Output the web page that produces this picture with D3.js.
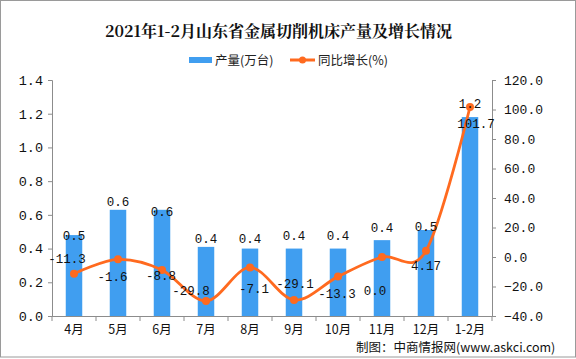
<!DOCTYPE html>
<html><head><meta charset="utf-8">
<script src="https://cdn.jsdelivr.net/npm/d3@7"></script>
<style>body{margin:0;background:#fff}svg{display:block}</style>
</head><body>
<svg id="c" width="576" height="359"></svg>
<script>
const categories = ["4月","5月","6月","7月","8月","9月","10月","11月","12月","1-2月"];
const output = [0.48, 0.63, 0.63, 0.41, 0.40, 0.40, 0.40, 0.45, 0.51, 1.18];
const outputLabels = ["0.5","0.6","0.6","0.4","0.4","0.4","0.4","0.4","0.5","1.2"];
const growth = [-11.3, -1.6, -8.8, -29.8, -7.1, -29.1, -13.3, 0.0, 4.17, 101.7];
const growthLabels = ["-11.3","-1.6","-8.8","-29.8","-7.1","-29.1","-13.3","0.0","4.17","101.7"];
const leftTicks = [0, 0.2, 0.4, 0.6, 0.8, 1.0, 1.2, 1.4];
const rightTicks = [-40, -20, 0, 20, 40, 60, 80, 100, 120];

// layout offsets for labels (styling, not data)
const barLabelDy = [0, -8, 2, -8, -10, -13, -13, -13, -4, -14];
const lineLabelDx = [-7, -5.5, -1, -15, 4, 1, -1, -7, 0, 6];
const lineLabelDy = [-15, 17, 6, -10, 21, -16, 17, 33, 15, 17];

const svg = d3.select("#c");
const W = 576, H = 359;
const x0 = 52, x1 = 492, yTop = 80, yBot = 316;
const BAR = "#409EF0", LINE = "#FF6A1F", AXIS = "#8c8c8c";
const mono = "'Liberation Mono','DejaVu Sans Mono',monospace";
const cjk = "'Noto Sans CJK SC','Noto Sans',sans-serif";

svg.append("rect").attr("x",0.5).attr("y",0.5).attr("width",W-1).attr("height",H-2.5)
  .attr("fill","#fff").attr("stroke","#9a9a9a");

const x = d3.scaleBand().domain(categories).range([x0, x1]).padding(0);
const yL = d3.scaleLinear().domain([0, 1.4]).range([yBot, yTop]);
const yR = d3.scaleLinear().domain([-40, 120]).range([yBot, yTop]);

// title
svg.append("text").attr("x", 278.5).attr("y", 37).attr("text-anchor","middle")
  .attr("font-family","'Noto Serif CJK SC','Noto Sans CJK SC',serif").attr("font-weight","bold")
  .attr("font-size",16).attr("fill","#111").text("2021年1-2月山东省金属切削机床产量及增长情况");

// legend
const lg = svg.append("g");
lg.append("rect").attr("x",189).attr("y",57).attr("width",23).attr("height",6).attr("fill",BAR);
lg.append("text").attr("x",215).attr("y",64.5).attr("font-family",cjk).attr("font-size",12.5).attr("fill","#222").text("产量(万台)");
lg.append("line").attr("x1",290).attr("x2",315).attr("y1",60).attr("y2",60).attr("stroke",LINE).attr("stroke-width",3);
lg.append("circle").attr("cx",302.5).attr("cy",60).attr("r",3.5).attr("fill",LINE);
lg.append("text").attr("x",318).attr("y",64.5).attr("font-family",cjk).attr("font-size",12.5).attr("fill","#222").text("同比增长(%)");

// axes
const axL = d3.axisLeft(yL).tickValues(leftTicks).tickFormat(d3.format(".1f")).tickSize(4).tickPadding(5);
const gL = svg.append("g").attr("transform",`translate(${x0},0)`).call(axL);
const axR = d3.axisRight(yR).tickValues(rightTicks).tickFormat(d3.format(".1f")).tickSize(4).tickPadding(8);
const gR = svg.append("g").attr("transform",`translate(${x1},0)`).call(axR);
const axB = d3.axisBottom(x).tickSize(0).tickPadding(9);
const gB = svg.append("g").attr("transform",`translate(0,${yBot})`).call(axB);
[gL,gR,gB].forEach(g=>{
  g.select(".domain").attr("stroke",AXIS);
  g.selectAll(".tick line").attr("stroke",AXIS);
  g.selectAll("text").attr("fill","#111");
});
gL.selectAll("text").attr("font-family",mono).attr("font-size",13.5);
gR.selectAll("text").attr("font-family",mono).attr("font-size",13);
gB.selectAll("text").attr("font-family",cjk).attr("font-size",12.5);
gB.select(".domain").attr("d",`M${x0},0.5H${x1}`);
// category boundary ticks
gB.selectAll(".bt").data(d3.range(categories.length+1)).join("line")
  .attr("x1",i=>x0 + i*x.bandwidth()).attr("x2",i=>x0 + i*x.bandwidth())
  .attr("y1",0).attr("y2",5).attr("stroke",AXIS);

// bars
const bw = 16.5;
svg.append("g").selectAll("rect").data(output).join("rect")
  .attr("x",(d,i)=>x(categories[i]) + x.bandwidth()/2 - bw/2)
  .attr("y",d=>yL(d)).attr("width",bw).attr("height",d=>yBot - yL(d)).attr("fill",BAR);

// line
const pts = growth.map((v,i)=>[x(categories[i]) + x.bandwidth()/2, yR(v)]);
svg.append("path").datum(pts).attr("fill","none").attr("stroke",LINE).attr("stroke-width",2.8)
  .attr("d", d3.line().curve(d3.curveCardinal.tension(0)));
svg.append("g").selectAll("circle").data(pts).join("circle")
  .attr("cx",d=>d[0]).attr("cy",d=>d[1]).attr("r",4).attr("fill",LINE);

// bar labels
svg.append("g").selectAll("text").data(output).join("text")
  .attr("x",(d,i)=>x(categories[i]) + x.bandwidth()/2)
  .attr("y",(d,i)=>yL(d) + barLabelDy[i] + 4.5)
  .attr("text-anchor","middle").attr("font-family",mono).attr("font-size",12.5).attr("fill","#111")
  .text((d,i)=>outputLabels[i]);

// line labels
svg.append("g").selectAll("text").data(growth).join("text")
  .attr("x",(d,i)=>pts[i][0] + lineLabelDx[i])
  .attr("y",(d,i)=>pts[i][1] + lineLabelDy[i] + 4.5)
  .attr("text-anchor","middle").attr("font-family",mono).attr("font-size",12.5).attr("fill","#111")
  .text((d,i)=>growthLabels[i]);

// footer
svg.append("text").attr("x",356).attr("y",351.5).attr("font-family",cjk).attr("font-size",12.5).attr("fill","#111")
  .text("制图：中商情报网(www.askci.com)");
</script>
</body></html>
